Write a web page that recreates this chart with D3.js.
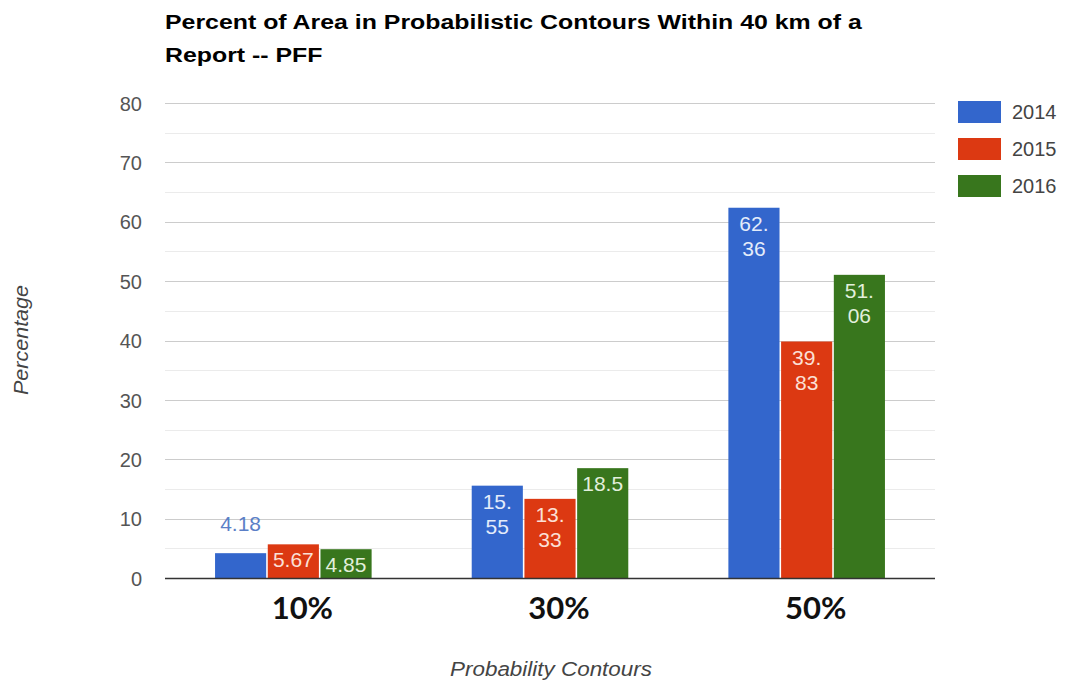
<!DOCTYPE html>
<html><head><meta charset="utf-8">
<script src="https://cdn.jsdelivr.net/npm/d3@7"></script>
<style>body{margin:0;background:#fff}svg{display:block}</style>
</head><body><svg id="c" width="1065" height="685"></svg>
<script>
const categories = ["10%", "30%", "50%"];
const seriesNames = ["2014", "2015", "2016"];
const v2014 = [4.18, 15.55, 62.36];
const v2015 = [5.67, 13.33, 39.83];
const v2016 = [4.85, 18.5, 51.06];
const yTicks = [0, 10, 20, 30, 40, 50, 60, 70, 80];
const colors = ["#3366cc", "#dc3912", "#38761d"];
const labelColors = ["#e4ecfa", "#fbe0d6", "#e2efdc"];
const title = ["Percent of Area in Probabilistic Contours Within 40 km of a", "Report -- PFF"];

const seriesVals = [v2014, v2015, v2016];
const svg = d3.select("#c");
const FONT = "Liberation Sans, Arial, sans-serif";
const L = 165, R = 935, T = 103, B = 578;
const y = d3.scaleLinear().domain([0, 80]).range([B, T]);
const x0 = d3.scaleBand().domain(categories).range([L, R]).paddingInner(0.39).paddingOuter(0.195);
const x1 = d3.scaleBand().domain(seriesNames).range([0, x0.bandwidth()]).paddingInner(0.03);

// title
const tg = svg.append("g");
tg.selectAll("text").data(title).join("text")
  .attr("x", 0).attr("y", (d, i) => 29 + i * 33)
  .attr("font-family", FONT)
  .attr("font-weight", "bold").attr("font-size", 21).attr("fill", "#000")
  .text(d => d);
const w1 = tg.select("text").node().getComputedTextLength();
tg.attr("transform", `translate(165,0) scale(${697 / w1},1)`);

// grid
const minor = d3.range(5, 80, 10);
svg.append("g").selectAll("line").data(minor).join("line")
  .attr("x1", L).attr("x2", R).attr("y1", d => Math.round(y(d)) + 0.5).attr("y2", d => Math.round(y(d)) + 0.5)
  .attr("stroke", "#ebebeb");
svg.append("g").selectAll("line").data(yTicks.filter(d => d > 0)).join("line")
  .attr("x1", L).attr("x2", R).attr("y1", d => Math.round(y(d)) + 0.5).attr("y2", d => Math.round(y(d)) + 0.5)
  .attr("stroke", "#cccccc");

// y axis via d3 axis
const yAxis = svg.append("g").attr("transform", `translate(${L},0)`)
  .call(d3.axisLeft(y).tickValues(yTicks).tickSize(0).tickPadding(23));
yAxis.select(".domain").remove();
yAxis.selectAll("text").attr("font-family", FONT)
  .attr("font-size", 20).attr("fill", "#555").attr("dy", "0.36em");

// bars
const data = [];
categories.forEach((c, i) => seriesNames.forEach((s, j) => data.push({c, s, j, v: seriesVals[j][i]})));
const g = svg.append("g");
g.selectAll("rect").data(data).join("rect")
  .attr("x", d => x0(d.c) + x1(d.s)).attr("width", x1.bandwidth())
  .attr("y", d => y(d.v)).attr("height", d => y(0) - y(d.v))
  .attr("fill", d => colors[d.j]);

// labels
data.forEach(d => {
  const cx = x0(d.c) + x1(d.s) + x1.bandwidth() / 2;
  const top = y(d.v);
  const h = y(0) - top;
  const str = String(d.v);
  const t = g.append("text").attr("text-anchor", "middle")
    .attr("font-family", FONT).attr("font-size", 21);
  if (h < 26) {
    t.attr("x", cx).attr("y", top - 22).attr("fill", "#5b7fc7").text(str);
    return;
  }
  t.attr("x", cx).attr("y", Math.min(top + 23, B - 6)).attr("fill", labelColors[d.j]).text(str);
  if (t.node().getComputedTextLength() > x1.bandwidth() - 8) {
    const k = str.indexOf(".") + 1;
    t.text(str.slice(0, k));
    g.append("text").attr("text-anchor", "middle")
      .attr("font-family", FONT).attr("font-size", 21)
      .attr("x", cx).attr("y", top + 48).attr("fill", labelColors[d.j]).text(str.slice(k));
  }
});

// baseline
svg.append("line").attr("x1", L).attr("x2", R).attr("y1", B + 0.5).attr("y2", B + 0.5)
  .attr("stroke", "#333").attr("stroke-width", 1.3);

// x axis category labels
const xAxis = svg.append("g").attr("transform", `translate(9,${B})`)
  .call(d3.axisBottom(x0).tickSize(0).tickPadding(19));
xAxis.select(".domain").remove();
xAxis.selectAll("text").attr("font-family", "Lato, Open Sans, sans-serif").attr("font-weight", "bold")
  .attr("font-size", 31).attr("fill", "#111").attr("dy", "0.71em");

// axis titles
svg.append("text").attr("transform", "translate(28,340) rotate(-90)").attr("text-anchor", "middle")
  .attr("font-family", FONT).attr("font-style", "italic")
  .attr("font-size", 20).attr("fill", "#444")
  .attr("textLength", 110).attr("lengthAdjust", "spacingAndGlyphs").text("Percentage");
svg.append("text").attr("x", 551).attr("y", 676).attr("text-anchor", "middle")
  .attr("font-family", FONT).attr("font-style", "italic")
  .attr("font-size", 20).attr("fill", "#444")
  .attr("textLength", 202).attr("lengthAdjust", "spacingAndGlyphs").text("Probability Contours");

// legend
const lg = svg.append("g").selectAll("g").data(seriesNames).join("g")
  .attr("transform", (d, i) => `translate(958,${101 + i * 37})`);
lg.append("rect").attr("width", 43).attr("height", 22).attr("fill", (d, i) => colors[i]);
lg.append("text").attr("x", 54).attr("y", 11).attr("dy", "0.36em")
  .attr("font-family", FONT).attr("font-size", 20).attr("fill", "#444").text(d => d);
</script></body></html>
